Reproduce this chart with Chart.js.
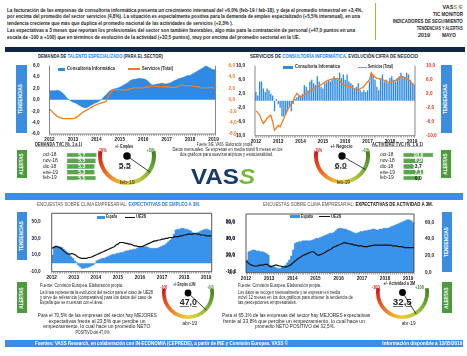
<!DOCTYPE html>
<html><head><meta charset="utf-8">
<script src="https://cdn.jsdelivr.net/npm/chart.js@4.4.1/dist/chart.umd.min.js"></script>
<style>
html,body{margin:0;padding:0;background:#fff;}
body{width:467px;height:356px;position:relative;overflow:hidden;font-family:"Liberation Sans",Arial,sans-serif;}
.t{position:absolute;left:0;top:0;white-space:nowrap;line-height:1;color:#262626;font-weight:bold;font-size:4.6px;}
.n{font-weight:normal;}
.bx{position:absolute;}
canvas{position:absolute;}
.vb{position:absolute;}
.vb span{position:absolute;left:50%;top:50%;transform:translate(-50%,-50%) rotate(-90deg) scale(0.5);color:#fff;font-weight:bold;font-size:9.2px;white-space:nowrap;line-height:1;}
.u{text-decoration:underline;}
</style></head><body>

<!-- header text -->
<div class="t" data-x="7.3" data-y="10" data-w="355.7" style="font-size:4.9px">La facturación de las empresas de consultoría informática presenta un crecimiento interanual del +6,0% (feb-19 / feb-18), y deja el promedio trimestral en +3,4%,</div>
<div class="t" data-x="7.3" data-y="16.7" data-w="353" style="font-size:4.9px">por encima del promedio del sector servicios (4,8%). La situación es especialmente positiva para la demanda de empleo especializado (+5,5% interanual), en una</div>
<div class="t" data-x="7.3" data-y="23.7" data-w="226" style="font-size:4.9px">tendencia creciente que más que duplica el promedio nacional de las actividades de servicios (+2,3% ).</div>
<div class="t" data-x="7.3" data-y="30.7" data-w="348" style="font-size:4.9px">Las expectativas a  3 meses que reportan los profesionales del sector son también favorables, algo más para la contratación de personal (+47,0 puntos en una</div>
<div class="t" data-x="7.3" data-y="37.3" data-w="293" style="font-size:4.9px">escala de -100 a +100) que en términos de evolución de la actividad (+32,5 puntos), muy por encima del promedio  sectorial en la UE.</div>

<div class="bx" style="left:374.5px;top:3px;width:1px;height:37px;background:#8cc63f"></div>
<div class="t" data-x="463" data-y="7.5" data-w="20" data-a="r">VAS<span style="color:#6fae2f">S</span> ©</div>
<div class="t" data-x="463" data-y="14.7" data-w="30" data-a="r">TIC MONITOR</div>
<div class="t" data-x="463" data-y="21.7" data-w="70" data-a="r">INDICADORES DE SEGUIMIENTO</div>
<div class="t" data-x="463" data-y="29" data-w="46" data-a="r">TENDENCIAS Y ALERTAS</div>
<div class="t" data-x="418" data-y="36" data-w="12">2019</div>
<div class="t" data-x="442" data-y="36" data-w="14">MAYO</div>

<div class="bx" style="left:5px;top:46.7px;width:460px;height:5.6px;background:#0e2747"></div>

<div class="t" data-x="38" data-y="56.7" data-w="125" style="color:#1c2a3a">DEMANDA DE <span style="color:#2a7fe0">TALENTO ESPECIALIZADO</span> (PARA EL SECTOR)</div>
<div class="t" data-x="250" data-y="56.7" data-w="168" style="color:#1c2a3a">SERVICIOS DE <span style="color:#2a7fe0">CONSULTORÍA INFORMÁTICA</span>. EVOLUCIÓN CIFRA DE NEGOCIO</div>

<!-- vertical boxes -->
<div class="vb" style="left:16px;top:65px;width:10.5px;height:68px;background:#3b8de0"><span>TENDENCIAS</span></div>
<div class="vb" style="left:440.5px;top:65px;width:11px;height:68px;background:#3b8de0"><span>TENDENCIAS</span></div>
<div class="vb" style="left:16.5px;top:150px;width:10px;height:28px;background:#4b9b3c"><span>ALERTAS</span></div>
<div class="vb" style="left:440.5px;top:150px;width:10px;height:28px;background:#4b9b3c"><span>ALERTAS</span></div>
<div class="vb" style="left:17px;top:212px;width:10px;height:48px;background:#3b8de0"><span>TENDENCIAS</span></div>
<div class="vb" style="left:442px;top:212px;width:10px;height:60px;background:#3b8de0"><span>TENDENCIAS</span></div>
<div class="vb" style="left:17px;top:282px;width:10px;height:31px;background:#4b9b3c"><span>ALERTAS</span></div>
<div class="vb" style="left:442px;top:282px;width:10px;height:31px;background:#4b9b3c"><span>ALERTAS</span></div>

<!-- charts -->
<canvas id="c1"></canvas>
<canvas id="c2"></canvas>
<canvas id="c3"></canvas>
<canvas id="c4"></canvas>
<canvas id="tb1"></canvas>
<canvas id="tb2"></canvas>
<canvas id="g1"></canvas>
<canvas id="g2"></canvas>
<canvas id="g3"></canvas>
<canvas id="g4"></canvas>

<!-- legends -->
<div class="bx" style="left:58px;top:67.5px;width:7px;height:3px;background:#2f8ae3"></div>
<div class="t" data-x="66.7" data-y="69" data-w="48">Consultoría Informática</div>
<div class="bx" style="left:128px;top:68.4px;width:12px;height:1.2px;background:#f47b20"></div>
<div class="t" data-x="142" data-y="69" data-w="31">Servicios (Total)</div>

<div class="bx" style="left:283px;top:65.8px;width:10px;height:3px;background:#2f8ae3"></div>
<div class="t" data-x="295" data-y="67.3" data-w="45">Consultoría Informática</div>
<div class="bx" style="left:357.7px;top:66.7px;width:9.6px;height:1.2px;background:#f47b20"></div>
<div class="t" data-x="368" data-y="67.3" data-w="25">Servicios (Total)</div>

<div class="bx" style="left:96.7px;top:215.7px;width:8.3px;height:3px;background:#3a93ea"></div>
<div class="t" data-x="106" data-y="217.2" data-w="11">España</div>
<div class="bx" style="left:125px;top:216.7px;width:10px;height:1px;background:#111"></div>
<div class="t" data-x="136" data-y="217.2" data-w="10">UE28</div>

<div class="bx" style="left:290px;top:215px;width:10px;height:3px;background:#3a93ea"></div>
<div class="t" data-x="301" data-y="216.5" data-w="12">España</div>
<div class="bx" style="left:319px;top:216px;width:11px;height:1px;background:#111"></div>
<div class="t" data-x="330.5" data-y="216.5" data-w="10">UE28</div>

<!-- alert row 1 -->
<div class="t u" data-x="35" data-y="145" data-w="47">DEMANDA TVC (%, 1 a 1)</div>
<div class="t" data-x="124" data-y="146.7" data-w="18" data-a="c">+/- Empleo</div>
<div class="t" data-x="102.5" data-y="150.7" data-w="9" data-a="c" style="color:#d62020">-10%</div>
<div class="t" data-x="151" data-y="150.7" data-w="8" data-a="c" style="color:#3d7a22">+10%</div>
<div class="t u" data-x="125" data-y="165" data-w="12" data-a="c" style="font-size:8px">5,5</div>
<div class="t n" data-x="127.5" data-y="182.7" data-w="15" data-a="c" style="font-size:5px">feb-19</div>

<div class="t n" data-x="225" data-y="145" data-w="56" data-a="c">Fuente: INE, VASS. Elaboración propia.</div>
<div class="t n" data-x="227" data-y="150" data-w="110" data-a="c">Datos mensuales. Se expresan en media móvil 6 meses en los</div>
<div class="t n" data-x="226.5" data-y="154.5" data-w="93" data-a="c">dos gráficos para suavizar atípicos y estacionalidad.</div>
<div class="t" data-x="191" data-y="176" data-w="64" style="font-size:23px;color:#173a66">VAS<span style="color:#79b83a;font-style:italic">S</span></div>

<div class="t" data-x="341" data-y="147" data-w="22" data-a="c">+/- Negocio</div>
<div class="t" data-x="318.5" data-y="150.7" data-w="8" data-a="c" style="color:#d62020">-10%</div>
<div class="t" data-x="366" data-y="150.7" data-w="7" data-a="c" style="color:#3d7a22">+10%</div>
<div class="t u" data-x="341" data-y="165" data-w="12" data-a="c" style="font-size:8px">6,0</div>
<div class="t n" data-x="343.5" data-y="182" data-w="13" data-a="c" style="font-size:5px">feb-19</div>
<div class="t u" data-x="372" data-y="145" data-w="51">ACTIVIDAD TVC (%, 1 a 1)</div>

<div class="bx" style="left:5px;top:193.3px;width:458px;height:6.7px;background:#3b8ee6"></div>

<div class="t n" data-x="37" data-y="205" data-w="163" style="color:#555">ENCUESTAS SOBRE CLIMA EMPRESARIAL: <span style="color:#2a7fe0;font-weight:bold">EXPECTATIVAS DE EMPLEO A 3M.</span></div>
<div class="t n" data-x="263" data-y="205" data-w="170" style="color:#555">ENCUESTAS SOBRE CLIMA EMPRESARIAL: <span style="color:#111;font-weight:bold">EXPECTATIVAS DE ACTIVIDAD A 3M.</span></div>

<!-- bottom left -->
<div class="t n" data-x="40" data-y="286" data-w="83">Fuente: Comisión Europea. Elaboración propia.</div>
<div class="t n" data-x="40" data-y="292.7" data-w="113">La línea representa la evolución del sector para el caso de UE28</div>
<div class="t n" data-x="40" data-y="297.7" data-w="112">y sirve de referencia (comparativa) para los datos del caso de</div>
<div class="t n" data-x="40" data-y="303.3" data-w="63">España que se muestran con el área.</div>
<div class="t n" data-x="97.5" data-y="315.7" data-w="119" data-a="c" style="font-size:5px">Para el 70,5% de las empresas del sector hay MEJORES</div>
<div class="t n" data-x="96.5" data-y="321.3" data-w="97" data-a="c" style="font-size:5px">expectativas frente al 23,5% que percibe un</div>
<div class="t n" data-x="96.5" data-y="326.7" data-w="107" data-a="c" style="font-size:5px">empeoramiento, lo cual hace un promedio NETO</div>
<div class="t n" data-x="92.5" data-y="332.3" data-w="35" data-a="c" style="font-size:5px">POSITIVO del 47,0%.</div>

<div class="t" data-x="184" data-y="285" data-w="22" data-a="c">+/- Empleo a 3M</div>
<div class="t" data-x="163.5" data-y="288" data-w="7" data-a="c" style="color:#d62020">-100</div>
<div class="t" data-x="211" data-y="288" data-w="6" data-a="c" style="color:#3d7a22">+100</div>
<div class="t u" data-x="188.5" data-y="302" data-w="17" data-a="c" style="font-size:9px">47,0</div>
<div class="t n" data-x="189.5" data-y="323" data-w="15" data-a="c" style="font-size:5px">abr-19</div>

<!-- bottom right -->
<div class="t n" data-x="238" data-y="286" data-w="83">Fuente: Comisión Europea. Elaboración propia.</div>
<div class="t n" data-x="238" data-y="292.7" data-w="102">Los datos se recogen mensualmente y se expresan en media</div>
<div class="t n" data-x="238" data-y="297.7" data-w="115">móvil 12 meses en los dos gráficos para obtener la tendencia de</div>
<div class="t n" data-x="238" data-y="303.3" data-w="59">las percepciones empresariales.</div>
<div class="t n" data-x="296" data-y="315.7" data-w="148" data-a="c" style="font-size:5px">Para el 65,1% de las empresas del sector hay MEJORES expectativas</div>
<div class="t n" data-x="294" data-y="321.3" data-w="142" data-a="c" style="font-size:5px">frente al 33,8% que percibe un empeoramiento, lo cual hace un</div>
<div class="t n" data-x="295" data-y="326.7" data-w="80" data-a="c" style="font-size:5px">promedio NETO POSITIVO del 32,5%.</div>

<div class="t" data-x="399" data-y="284" data-w="32" data-a="c">+/- Actividad a 3M</div>
<div class="t" data-x="376" data-y="288" data-w="8" data-a="c" style="color:#d62020">-100</div>
<div class="t" data-x="420" data-y="288" data-w="9" data-a="c" style="color:#3d7a22">+100</div>
<div class="t u" data-x="402.5" data-y="302" data-w="19" data-a="c" style="font-size:9px">32,5</div>
<div class="t n" data-x="408.5" data-y="323" data-w="14" data-a="c" style="font-size:5px">abr-19</div>

<!-- footer -->
<div class="bx" style="left:5px;top:339.5px;width:458px;height:7.5px;background:#3b8ee6"></div>
<div class="t" data-x="35" data-y="343.3" data-w="253" style="color:#fff;font-size:4.8px">Fuentes: VASS Research, en colaboración con IN-ECONOMIA (CEPREDE), a partir de INE y Comisión Europea. VASS ©</div>
<div class="t" data-x="462" data-y="343.3" data-w="80" data-a="r" style="color:#fff;font-size:4.8px">Información disponible a 13/05/2019</div>

<script>
// ---------------- DATA ----------------
const years = ['2012','2013','2014','2015','2016','2017','2018','2019'];

// Demanda de talento especializado (TVC %, media móvil), ene-2012 .. feb-2019
const consultoriaEmpleo = [
 1.6,1.6,1.6,1.6,1.7,1.6,1.4,1.1,0.7,0.3,0.0,-0.2,
 -0.4,-0.5,-0.7,-0.9,-1.1,-1.3,-1.4,-1.4,-1.2,-1.0,-0.8,-0.6,
 -0.5,-0.3,-0.1,0.2,0.6,0.9,1.3,1.6,1.8,1.9,2.0,2.1,
 2.2,2.4,2.6,2.8,3.0,3.3,3.5,3.6,3.6,3.7,3.8,3.7,
 3.7,3.6,3.4,3.1,2.7,2.6,2.7,2.8,2.8,2.9,2.9,2.8,
 2.8,2.9,3.0,3.2,3.4,3.5,3.7,3.8,3.9,4.0,4.2,4.3,
 4.3,4.5,4.7,4.9,5.1,5.3,5.5,5.7,6.0,5.8,5.6,5.4,
 5.3,5.3];
const serviciosEmpleo = [
 -1.6,-1.9,-2.3,-2.6,-2.9,-3.1,-3.2,-3.3,-3.3,-3.3,-3.3,-3.3,
 -3.3,-3.2,-3.0,-2.8,-2.5,-2.2,-2.0,-1.8,-1.6,-1.4,-1.2,-1.0,
 -0.9,-0.7,-0.6,-0.5,-0.4,-0.3,0.5,1.2,1.6,1.7,1.8,1.8,
 1.8,1.8,1.7,1.7,1.8,1.9,2.0,2.1,2.1,2.1,2.1,2.1,
 2.1,2.2,2.3,2.3,2.4,2.4,2.4,2.4,2.3,2.3,2.3,2.3,
 2.3,2.3,2.2,2.2,2.2,2.2,2.4,2.6,2.6,2.5,2.5,2.5,
 2.5,2.4,2.4,2.3,2.3,2.2,2.1,2.1,2.1,2.1,2.2,2.2,
 2.1,2.0];

// Cifra de negocio (TVC %), ene-2012 .. feb-2019
const consultoriaNegocio = [
 2.5,1.5,5.5,5.5,3.5,2.5,3.5,3.0,2.0,1.5,-3.0,0.5,
 -1.0,-2.0,-4.5,-4.5,-4.0,-3.0,-1.5,-3.0,-1.0,0.5,1.0,1.5,
 1.5,2.0,4.5,4.0,3.0,5.5,6.0,5.0,4.5,7.0,5.5,4.0,
 3.5,5.0,5.5,6.0,5.5,6.0,7.0,6.5,6.0,8.0,6.5,7.5,
 6.0,7.5,5.5,5.0,4.5,3.5,4.0,5.0,3.0,2.5,3.0,2.5,
 3.0,5.5,8.0,7.5,6.0,4.0,3.0,6.5,7.5,5.5,6.0,5.0,
 6.5,7.0,6.0,5.5,6.5,7.0,8.0,7.0,6.5,8.0,7.5,6.0,
 5.0,4.5];
const serviciosNegocio = [
 -2.9,-3.4,-4.1,-5.5,-6.5,-5.8,-5.0,-4.5,-4.1,-6.0,-8.4,-7.8,
 -7.0,-7.5,-6.3,-5.0,-3.8,-2.5,-1.7,-1.0,0.0,1.2,2.1,1.5,
 1.1,1.3,1.6,2.0,2.4,2.8,3.1,3.5,3.8,4.0,4.3,4.5,
 4.9,5.3,5.7,5.9,6.0,6.2,6.3,6.2,6.4,5.7,5.0,4.5,
 4.3,4.2,4.0,4.0,3.7,3.4,3.2,3.0,3.4,3.7,4.0,4.8,
 5.4,5.9,8.0,7.2,6.8,6.4,6.3,6.1,6.0,5.8,5.5,5.3,
 5.2,5.4,5.6,5.8,6.0,6.5,7.0,6.8,6.6,6.4,6.0,5.5,
 5.0,4.5];

// Expectativas de empleo a 3M (saldo), ene-2012 .. abr-2019
const espanaEmpleo3M = [
 10,20,21,20,20,19,17,15,13,11,8,6,
 3,1,-2,-4,-6,-6,-5,-5,-4,-3,-2,0,
 3,4,5,6,6,7,8,9,10,11,11,12,
 12,13,13,14,15,15,16,16,17,17,18,19,
 19,20,20,20,19,18,18,18,18,18,19,20,
 21,22,24,26,28,30,35,40,41,41,42,42,
 41,41,40,39,37,36,36,37,38,39,40,41,
 41,40,39,39];
const ue28Empleo3M = [
 18,19,20,20,19,18,16,14,12,11,11,12,
 11,10,8,7,6,6,6,6,7,7,8,9,
 10,11,12,13,14,15,16,17,18,19,20,22,
 23,25,25,25,24,24,23,23,22,21,21,20,
 20,20,21,22,23,24,25,26,27,27,28,28,
 29,29,30,30,31,31,31,32,32,32,33,33,
 34,34,35,35,35,35,36,35,35,34,34,34,
 33,33,33,33];

// Expectativas de actividad a 3M (saldo), ene-2012 .. abr-2019
const espanaActividad3M = [
 15,25,26,27,27,26,26,25,25,24,23,21,
 9,8,7,6,5,5,6,7,9,12,15,20,
 27,35,36,37,37,38,38,38,38,38,39,40,
 41,41,42,43,44,45,46,47,47,48,50,52,
 53,53,52,52,51,50,49,48,47,47,48,49,
 49,50,50,51,51,52,52,51,51,52,52,53,
 53,53,54,55,56,57,58,59,60,61,62,63,
 63,62,60,56];
const ue28Actividad3M = [
 14,12,10,9,8,8,8,9,9,9,10,10,
 8,7,8,9,9,8,8,7,7,7,8,9,
 11,13,15,17,18,20,21,22,23,24,25,25,
 23,21,21,22,23,24,26,27,28,30,31,32,
 33,34,35,36,35,35,34,34,33,33,32,32,
 32,31,31,31,32,32,33,33,33,33,33,33,
 33,33,33,33,32,32,32,31,31,31,30,30,
 30,30,30,30];

// Alertas
const tvcMonths = ['oct-18','nov-18','dic-18','ene-19','feb-19'];
const tvcDemanda = [5.7, 5.5, 5.3, 5.3, 5.5];
const tvcActividad = [10.6, 6.9, 3.7, 7.1, 6.0];
const gaugeEmpleo = 5.5, gaugeNegocio = 6.0;      // escala -10% .. +10%
const gaugeEmpleo3M = 47.0, gaugeActividad3M = 32.5; // escala -100 .. +100

function monthCats(lastYear, lastMonth){
  const out=[];
  years.forEach(y=>{for(let m=1;m<=12;m++){ if(+y===lastYear && m>lastMonth) break; out.push(y+'-'+String(m).padStart(2,'0'));}});
  return out;
}
const catsFeb19 = monthCats(2019,2);
const catsAbr19 = monthCats(2019,4);

// ---------------- TEXT PLACEMENT ----------------
const K=3;
document.querySelectorAll('.t').forEach(el=>{
  const fs=parseFloat(getComputedStyle(el).fontSize);
  el.style.fontSize=(fs*K)+'px';
  const x=+el.dataset.x, y=+el.dataset.y, a=el.dataset.a||'l';
  const r=el.getBoundingClientRect(); const w0=r.width, h0=r.height;
  const sx = el.dataset.w ? (+el.dataset.w)/w0 : 1/K;
  const sy = 1/K;
  el.style.top=(y-h0/2)+'px';
  if(a==='l'){el.style.left=x+'px';el.style.transformOrigin='left center';}
  else if(a==='c'){el.style.left=(x-w0/2)+'px';el.style.transformOrigin='center center';}
  else {el.style.left=(x-w0)+'px';el.style.transformOrigin='right center';}
  el.style.transform='scale('+sx+','+sy+')';
});

// ---------------- CHARTS ----------------
const FONT='"Liberation Sans", Arial, sans-serif';
const fmt=v=>Number(v).toFixed(1).replace('.',',');
const tickFont={family:FONT,size:4.7,weight:'bold'};

const framePlugin={id:'frame',afterDatasetsDraw(chart,args,opts){
  if(!opts||!opts.sides) return;
  const {ctx,chartArea:a}=chart; ctx.save(); ctx.strokeStyle=opts.color||'#444'; ctx.lineWidth=opts.width||0.8; ctx.beginPath();
  if(opts.sides.includes('l')){ctx.moveTo(a.left,a.top);ctx.lineTo(a.left,a.bottom);}
  if(opts.sides.includes('r')){ctx.moveTo(a.right,a.top);ctx.lineTo(a.right,a.bottom);}
  if(opts.sides.includes('t')){ctx.moveTo(a.left,a.top);ctx.lineTo(a.right,a.top);}
  if(opts.sides.includes('b')){ctx.moveTo(a.left,a.bottom);ctx.lineTo(a.right,a.bottom);}
  ctx.stroke(); ctx.restore();
}};

function place(el,cv){el.width=cv.w;el.height=cv.h;el.style.left=cv.x+'px';el.style.top=cv.y+'px';}

function tsChart(id,cv,plot,cfg){
  const el=document.getElementById(id); place(el,cv);
  return new Chart(el,{
    type:cfg.type||'line',
    data:{labels:cfg.labels,datasets:cfg.datasets},
    options:{
      responsive:false,animation:false,events:[],
      layout:{padding:{top:plot.t-cv.y,left:0,right:0,bottom:0}},
      plugins:{legend:{display:false},tooltip:{enabled:false},frame:cfg.frame},
      scales:{
        x:{type:'category',offset:!!cfg.offset,
           grid:{display:true,drawOnChartArea:false,tickLength:2,color:'#555',lineWidth:0.4,offset:!!cfg.offset},
           border:{display:false},
           ticks:{autoSkip:false,maxRotation:0,minRotation:0,padding:1,font:tickFont,color:'#222',
             callback:function(v){const l=this.getLabelForValue(v);return l.endsWith('-01')?l.slice(0,4):'';}},
           afterFit:s=>{s.height=cv.y+cv.h-plot.b;s.paddingLeft=0;s.paddingRight=0;}},
        y:{position:'left',min:cfg.yMin,max:cfg.yMax,
           ticks:{stepSize:cfg.step,font:tickFont,color:cfg.yColor||'#1a1a2e',padding:cfg.padL||2,callback:v=>fmt(v)},
           grid:{display:false},border:{display:false},
           afterFit:s=>{s.width=plot.l-cv.x;s.paddingTop=0;s.paddingBottom=0;}},
        y2:{position:'right',min:cfg.yMin,max:cfg.yMax,
           ticks:{stepSize:cfg.step,font:tickFont,color:cfg.y2Color||'#1a1a2e',padding:cfg.padR||3,callback:v=>fmt(v)},
           grid:{display:false},border:{display:false},
           afterFit:s=>{s.width=cv.x+cv.w-plot.r;s.paddingTop=0;s.paddingBottom=0;}}
      }
    },
    plugins:[framePlugin]
  });
}

const BLUE='#2f8ae3', BLUE2='#3a93ea', ORANGE='#f47b20';

tsChart('c1',{x:25,y:58,w:212,h:88},{l:49.5,r:215.5,t:65.7,b:134},{
  labels:catsFeb19,yMin:-6,yMax:6,step:2,y2Color:'#f07a22',padL:2,padR:5,
  frame:{sides:'lrb',color:'#555',width:0.7},
  datasets:[
    {label:'Servicios (Total)',data:serviciosEmpleo,borderColor:ORANGE,borderWidth:1.3,pointRadius:0,fill:false,yAxisID:'y',order:0},
    {label:'Consultoría Informática',data:consultoriaEmpleo,borderColor:'#2a7fd6',borderWidth:0.5,backgroundColor:BLUE,pointRadius:0,fill:'origin',yAxisID:'y',order:1}
  ]});

tsChart('c2',{x:228,y:58,w:210,h:90},{l:255,r:415,t:65.7,b:135.7},{
  type:'bar',offset:true,labels:catsFeb19,yMin:-10,yMax:10,step:2,y2Color:'#e3301e',padL:2,padR:3,
  frame:{sides:'lrb',color:'#555',width:0.7},
  datasets:[
    {type:'line',label:'Servicios (Total)',data:serviciosNegocio,borderColor:ORANGE,borderWidth:1.3,pointRadius:0,fill:false,yAxisID:'y',order:0},
    {type:'bar',label:'Consultoría Informática',data:consultoriaNegocio,backgroundColor:BLUE,borderWidth:0,barPercentage:0.72,categoryPercentage:1,yAxisID:'y',order:1}
  ]});

tsChart('c3',{x:28,y:206,w:208,h:78},{l:51.7,r:211.7,t:213.3,b:271.7},{
  labels:catsAbr19,yMin:-10,yMax:60,step:10,padL:3,padR:6,
  frame:{sides:'lrtb',color:'#444',width:0.9},
  datasets:[
    {label:'UE28',data:ue28Empleo3M,borderColor:'#111',borderWidth:1.2,pointRadius:0,fill:false,yAxisID:'y',order:0},
    {label:'España',data:espanaEmpleo3M,borderColor:'#2f86de',borderWidth:0.5,backgroundColor:BLUE2,pointRadius:0,fill:'origin',stepped:true,yAxisID:'y',order:1}
  ]});

tsChart('c4',{x:226,y:206,w:212,h:78},{l:246,r:414,t:214,b:272.7},{
  labels:catsAbr19,yMin:0,yMax:70,step:10,padL:3,padR:3,
  frame:{sides:'lrtb',color:'#444',width:0.9},
  datasets:[
    {label:'UE28',data:ue28Actividad3M,borderColor:'#111',borderWidth:1.2,pointRadius:0,fill:false,yAxisID:'y',order:0},
    {label:'España',data:espanaActividad3M,borderColor:'#2f86de',borderWidth:0.5,backgroundColor:BLUE2,pointRadius:0,fill:'origin',stepped:true,yAxisID:'y',order:1}
  ]});

// small bar tables
const barLabelPlugin={id:'barLabels',afterDatasetsDraw(chart){
  const {ctx,chartArea:a}=chart; const meta=chart.getDatasetMeta(0); const cx=(a.left+a.right)/2;
  ctx.save(); ctx.font='bold 5px '+FONT; ctx.textAlign='center'; ctx.textBaseline='middle';
  meta.data.forEach((b,i)=>{const v=chart.data.datasets[0].data[i]; ctx.fillStyle=b.x>=cx+2?'#fff':'#222'; ctx.fillText(fmt(v),cx,b.y+0.3);});
  ctx.restore();
}};
function tableChart(id,cv,plotL,plotR,values){
  const el=document.getElementById(id); place(el,cv);
  return new Chart(el,{type:'bar',
    data:{labels:tvcMonths,datasets:[{data:values,backgroundColor:'#58a84a',borderColor:'#2c7a2a',borderWidth:0.6,borderSkipped:false,barPercentage:0.76,categoryPercentage:1}]},
    options:{indexAxis:'y',responsive:false,animation:false,events:[],
      layout:{padding:{top:0,bottom:0,left:0,right:cv.x+cv.w-plotR}},
      plugins:{legend:{display:false},tooltip:{enabled:false}},
      scales:{x:{display:false,min:0,max:Math.max(...values)},
        y:{ticks:{autoSkip:false,crossAlign:'far',font:{family:FONT,size:4.8},color:'#222',padding:0},grid:{display:false},border:{display:false},
           afterFit:s=>{s.width=plotL-cv.x;s.paddingTop=0;s.paddingBottom=0;}}}},
    plugins:[barLabelPlugin]});
}
tableChart('tb1',{x:43,y:152,w:55,h:29},66.7,96.7,tvcDemanda);
tableChart('tb2',{x:380,y:152,w:55,h:29},403.3,433.3,tvcActividad);

// gauges
const ARC_START=-10, ARC_SWEEP=200;
const needlePlugin={id:'needle',afterDatasetsDraw(chart,args,o){
  const arc=chart.getDatasetMeta(0).data[0]; const {ctx}=chart;
  const f=(o.value-o.min)/(o.max-o.min);
  const ang=(ARC_START+ARC_SWEEP-f*ARC_SWEEP)*Math.PI/180;
  const R=arc.outerRadius;
  ctx.save(); ctx.strokeStyle='#111'; ctx.lineWidth=0.8;
  ctx.beginPath(); ctx.moveTo(arc.x,arc.y); ctx.lineTo(arc.x+Math.cos(ang)*R*0.97,arc.y+Math.sin(ang)*R*0.97); ctx.stroke();
  ctx.fillStyle='#0a0a0a'; ctx.beginPath(); ctx.arc(arc.x,arc.y,R*0.13,0,Math.PI*2); ctx.fill();
  ctx.restore();
}};
function gauge(id,cx,cy,r,value,min,max){
  const el=document.getElementById(id); const s=Math.round(2*r);
  place(el,{x:Math.round(cx-s/2),y:Math.round(cy-s/2),w:s,h:s});
  return new Chart(el,{type:'doughnut',
    data:{datasets:[{data:[ARC_SWEEP,360-ARC_SWEEP],borderWidth:0,
      backgroundColor:(c)=>{
        if(c.dataIndex===1) return 'rgba(0,0,0,0)';
        const a=c.chart.chartArea; if(!a) return '#e08a20';
        const g=c.chart.ctx.createConicGradient(ARC_START*Math.PI/180,(a.left+a.right)/2,(a.top+a.bottom)/2);
        const k=ARC_SWEEP/360;
        g.addColorStop(0,'#3f7f1e'); g.addColorStop(0.1*k/0.556,'#6aa832'); g.addColorStop(0.2*k/0.556,'#b4c83a');
        g.addColorStop(0.28*k/0.556,'#eccd36'); g.addColorStop(0.36*k/0.556,'#f29a2a'); g.addColorStop(0.46*k/0.556,'#e8501e');
        g.addColorStop(k,'#c9151b'); g.addColorStop(1,'#c9151b');
        return g;}}]},
    options:{responsive:false,animation:false,events:[],rotation:ARC_START+90,circumference:360,cutout:'86%',
      plugins:{legend:{display:false},tooltip:{enabled:false},needle:{value,min,max}}},
    plugins:[needlePlugin]});
}
gauge('g1',126.5,155.5,29,gaugeEmpleo,-10,10);
gauge('g2',341.5,155.5,28,gaugeNegocio,-10,10);
gauge('g3',188,292.5,26,gaugeEmpleo3M,-100,100);
gauge('g4',402,292.5,26.5,gaugeActividad3M,-100,100);
</script>
</body></html>
